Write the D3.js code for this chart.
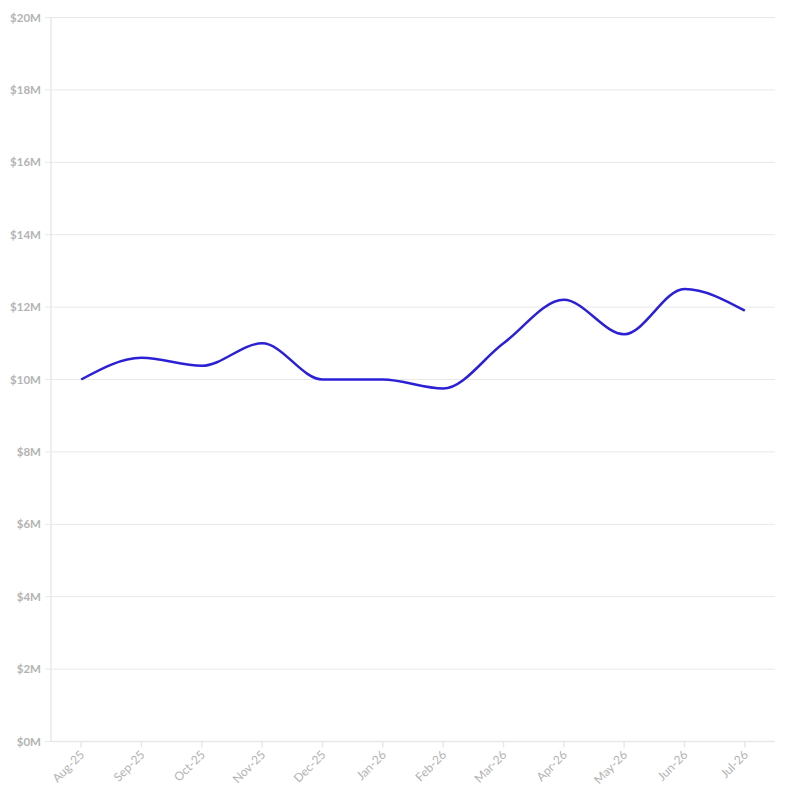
<!DOCTYPE html>
<html><head><meta charset="utf-8">
<script src="https://cdn.jsdelivr.net/npm/d3@7"></script>
<style>
body{margin:0;background:#fff;}
svg{display:block;}
</style></head>
<body><svg id="chart" width="794" height="800"></svg>
<script>
const months = ["Aug-25","Sep-25","Oct-25","Nov-25","Dec-25","Jan-26","Feb-26","Mar-26","Apr-26","May-26","Jun-26","Jul-26"];
const values = [10.0, 10.6, 10.38, 11.0, 10.0, 10.0, 9.75, 11.0, 12.2, 11.25, 12.5, 11.9];
const yTicks = [0,2,4,6,8,10,12,14,16,18,20];

const svg = d3.select("#chart");
const m = {l:51, r:19, t:17.5, b:58.5};
const W = 794 - m.l - m.r, H = 800 - m.t - m.b;
const g = svg.append("g").attr("transform",`translate(${m.l},${m.t})`);

const x = d3.scalePoint().domain(months).range([0,W]).padding(0.5);
const y = d3.scaleLinear().domain([0,20]).range([H,0]);

// grid
g.append("g").selectAll("line").data(yTicks).join("line")
  .attr("x1",-6).attr("x2",W).attr("y1",d=>y(d)).attr("y2",d=>y(d))
  .attr("stroke","#e8e8e8").attr("stroke-width",1);

// y axis line
g.append("line").attr("x1",0).attr("x2",0).attr("y1",0).attr("y2",H)
  .attr("stroke","#e8e8e8").attr("stroke-width",1.5);

// y labels
g.append("g").selectAll("text").data(yTicks).join("text")
  .attr("x",-10).attr("y",d=>y(d)).attr("dy","0.35em")
  .attr("text-anchor","end")
  .attr("font-family","'Source Sans Pro', Lato, 'Open Sans', sans-serif")
  .attr("font-weight","bold").attr("font-size",11.5).attr("fill","#b3b3b3")
  .text(d=>`$${d}M`);

// x axis
g.append("line").attr("x1",0).attr("x2",W).attr("y1",H).attr("y2",H)
  .attr("stroke","#e8e8e8").attr("stroke-width",1.5);
g.append("g").selectAll("line").data(months).join("line")
  .attr("x1",d=>x(d)).attr("x2",d=>x(d)).attr("y1",H).attr("y2",H+6)
  .attr("stroke","#e8e8e8").attr("stroke-width",1.5);
g.append("g").selectAll("text").data(months).join("text")
  .attr("transform",d=>`translate(${x(d)+4},${H+14}) rotate(-45)`)
  .attr("text-anchor","end")
  .attr("font-family","'Source Sans Pro', Lato, 'Open Sans', sans-serif")
  .attr("font-size",12).attr("fill","#b3b3b3")
  .text(d=>d);

// line
const line = d3.line().x((d,i)=>x(months[i])).y(d=>y(d)).curve(d3.curveMonotoneX);
g.append("path").datum(values).attr("d",line)
  .attr("fill","none").attr("stroke","#2b20d6").attr("stroke-width",2.5);
</script>
</body></html>
